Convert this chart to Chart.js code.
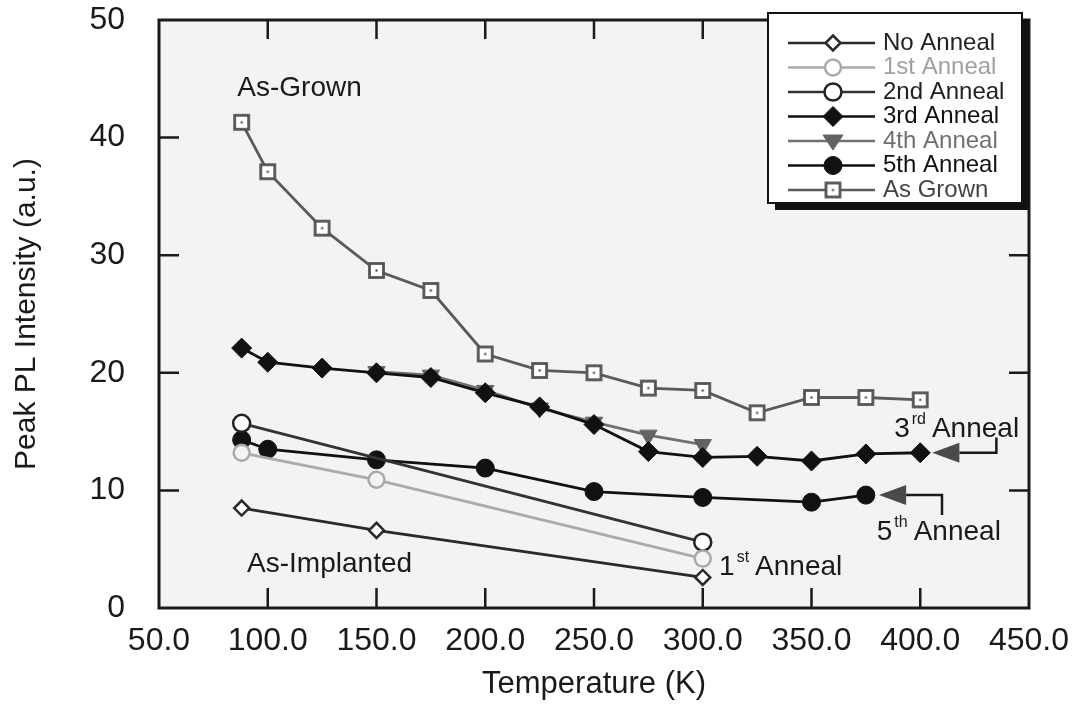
<!DOCTYPE html>
<html>
<head>
<meta charset="utf-8">
<title>Peak PL Intensity vs Temperature</title>
<script src="https://cdn.jsdelivr.net/npm/chart.js@4.4.1/dist/chart.umd.min.js"></script>
<style>
  html, body { margin: 0; padding: 0; background: #ffffff; }
  #wrap { width: 1076px; height: 705px; position: relative; }
</style>
</head>
<body>
<div id="wrap"><canvas id="plChart"></canvas></div>
<script>
// Temperatures (K) and peak PL intensity (a.u.)
const noAnnealT = [88, 150, 300];
const noAnneal = [8.5, 6.6, 2.6];

const firstT = [88, 150, 300];
const first = [13.2, 10.9, 4.2];

const secondT = [88, 300];
const second = [15.7, 5.6];

const thirdT = [88, 100, 125, 150, 175, 200, 225, 250, 275, 300, 325, 350, 375, 400];
const third = [22.1, 20.9, 20.4, 20.0, 19.6, 18.3, 17.1, 15.6, 13.3, 12.8, 12.9, 12.5, 13.1, 13.2];

const fourthT = [150, 175, 200, 225, 250, 275, 300];
const fourth = [20.1, 19.8, 18.5, 17.0, 15.8, 14.7, 13.9];

const fifthT = [88, 100, 150, 200, 250, 300, 350, 375];
const fifth = [14.3, 13.5, 12.6, 11.9, 9.9, 9.4, 9.0, 9.6];

const asGrownT = [88, 100, 125, 150, 175, 200, 225, 250, 275, 300, 325, 350, 375, 400];
const asGrown = [41.3, 37.1, 32.3, 28.7, 27.0, 21.6, 20.2, 20.0, 18.7, 18.5, 16.6, 17.9, 17.9, 17.7];

const xTicks = [50, 100, 150, 200, 250, 300, 350, 400, 450];
const yTicks = [0, 10, 20, 30, 40, 50];

const FONT = '"Liberation Sans", Arial, Helvetica, sans-serif';

function pts(xs, ys) {
    return xs.map((x, i) => ({ x: x, y: ys[i] }));
}

// square marker with a dot in the middle (As Grown)
function squareDot() {
    const c = document.createElement('canvas');
    c.width = 19; c.height = 19;
    const g = c.getContext('2d');
    g.fillStyle = '#ffffff';
    g.fillRect(2, 2, 15, 15);
    g.strokeStyle = '#555555';
    g.lineWidth = 2.8;
    g.strokeRect(2.5, 2.5, 14, 14);
    g.fillStyle = '#333333';
    g.fillRect(8.5, 8.5, 2, 2);
    return c;
}
const sqImg = squareDot();

const datasets = [
    {
        label: 'As Grown', data: pts(asGrownT, asGrown),
        borderColor: '#5a5a5a', borderWidth: 2.8, pointStyle: sqImg, pointRadius: 9,
        textColor: '#444444'
    },
    {
        label: 'No Anneal', data: pts(noAnnealT, noAnneal),
        borderColor: '#2a2a2a', borderWidth: 2.8, pointStyle: 'rectRot', pointRadius: 7.5,
        pointBackgroundColor: '#ffffff', pointBorderColor: '#2a2a2a', pointBorderWidth: 2.5,
        textColor: '#222222'
    },
    {
        label: '1st Anneal', data: pts(firstT, first),
        borderColor: '#aaaaaa', borderWidth: 2.8, pointStyle: 'circle', pointRadius: 8,
        pointBackgroundColor: '#f3f3f3', pointBorderColor: '#aaaaaa', pointBorderWidth: 2.5,
        textColor: '#a0a0a0'
    },
    {
        label: '2nd Anneal', data: pts(secondT, second),
        borderColor: '#333333', borderWidth: 2.8, pointStyle: 'circle', pointRadius: 8.5,
        pointBackgroundColor: '#ffffff', pointBorderColor: '#222222', pointBorderWidth: 2.5,
        textColor: '#222222'
    },
    {
        label: '3rd Anneal', data: pts(thirdT, third),
        borderColor: '#111111', borderWidth: 2.8, pointStyle: 'rectRot', pointRadius: 10,
        pointBackgroundColor: '#111111', pointBorderColor: '#111111', pointBorderWidth: 1,
        textColor: '#111111'
    },
    {
        label: '4th Anneal', data: pts(fourthT, fourth),
        borderColor: '#707070', borderWidth: 2.8, pointStyle: 'triangle', pointRotation: 180, pointRadius: 10,
        pointBackgroundColor: '#626262', pointBorderColor: '#626262', pointBorderWidth: 1,
        textColor: '#707070'
    },
    {
        label: '5th Anneal', data: pts(fifthT, fifth),
        borderColor: '#111111', borderWidth: 2.8, pointStyle: 'circle', pointRadius: 9,
        pointBackgroundColor: '#111111', pointBorderColor: '#111111', pointBorderWidth: 1,
        textColor: '#111111'
    }
];
datasets.forEach(d => { d.showLine = true; d.fill = false; d.tension = 0; });

// legend order as in the figure
const legendOrder = ['No Anneal', '1st Anneal', '2nd Anneal', '3rd Anneal', '4th Anneal', '5th Anneal', 'As Grown'];

function drawMarker(ctx, ds, x, y) {
    const r = ds.pointRadius;
    if (ds.pointStyle === sqImg) {
        ctx.drawImage(sqImg, x - sqImg.width / 2, y - sqImg.height / 2);
        return;
    }
    ctx.save();
    ctx.fillStyle = ds.pointBackgroundColor === '#f3f3f3' ? '#ffffff' : ds.pointBackgroundColor;
    ctx.strokeStyle = ds.pointBorderColor;
    ctx.lineWidth = ds.pointBorderWidth;
    ctx.beginPath();
    if (ds.pointStyle === 'circle') {
        ctx.arc(x, y, r, 0, Math.PI * 2);
    } else if (ds.pointStyle === 'rectRot') {
        ctx.moveTo(x, y - r); ctx.lineTo(x + r, y); ctx.lineTo(x, y + r); ctx.lineTo(x - r, y);
        ctx.closePath();
    } else if (ds.pointStyle === 'triangle') {
        ctx.moveTo(x - r, y - r * 0.6); ctx.lineTo(x + r, y - r * 0.6); ctx.lineTo(x, y + r * 0.9);
        ctx.closePath();
    }
    ctx.fill();
    ctx.stroke();
    ctx.restore();
}

// plot background, frame and inward ticks
const framePlugin = {
    id: 'frame',
    beforeDatasetsDraw(chart) {
        const { ctx, chartArea: a, scales: { x, y } } = chart;
        ctx.save();
        ctx.strokeStyle = '#1a1a1a';
        ctx.lineWidth = 2.5;
        ctx.beginPath();
        xTicks.slice(1, -1).forEach(v => {
            const px = x.getPixelForValue(v);
            ctx.moveTo(px, a.bottom); ctx.lineTo(px, a.bottom - 20);
            ctx.moveTo(px, a.top); ctx.lineTo(px, a.top + 19);
        });
        yTicks.slice(1, -1).forEach(v => {
            const py = y.getPixelForValue(v);
            ctx.moveTo(a.left, py); ctx.lineTo(a.left + 20, py);
            ctx.moveTo(a.right, py); ctx.lineTo(a.right - 20, py);
        });
        ctx.stroke();
        ctx.lineWidth = 3;
        ctx.strokeRect(a.left, a.top, a.right - a.left, a.bottom - a.top);
        ctx.restore();
    },
    beforeDraw(chart) {
        const { ctx, chartArea: a } = chart;
        ctx.save();
        ctx.fillStyle = '#f3f3f3';
        ctx.fillRect(a.left, a.top, a.right - a.left, a.bottom - a.top);
        ctx.restore();
    }
};

// text with a superscript ordinal, e.g. 3rd Anneal
function supText(ctx, lead, sup, rest, x, y) {
    ctx.font = '28px ' + FONT;
    ctx.fillText(lead, x, y);
    let w = ctx.measureText(lead).width + 2;
    ctx.font = '16px ' + FONT;
    ctx.fillText(sup, x + w, y - 13);
    w += ctx.measureText(sup).width + 6;
    ctx.font = '28px ' + FONT;
    ctx.fillText(rest, x + w, y);
}

function arrow(ctx, x, y, tipX, tipY, baseX, endX, bendY) {
    const tx = x.getPixelForValue(tipX), ty = y.getPixelForValue(tipY);
    const bx = x.getPixelForValue(baseX), ex = x.getPixelForValue(endX);
    const by = y.getPixelForValue(bendY);
    ctx.strokeStyle = '#1a1a1a';
    ctx.lineWidth = 2.5;
    ctx.beginPath();
    ctx.moveTo(bx, ty); ctx.lineTo(ex, ty); ctx.lineTo(ex, by);
    ctx.stroke();
    ctx.fillStyle = '#4a4a4a';
    ctx.beginPath();
    ctx.moveTo(tx, ty); ctx.lineTo(bx, ty - 10); ctx.lineTo(bx, ty + 10);
    ctx.closePath();
    ctx.fill();
}

const notesPlugin = {
    id: 'notes',
    afterDraw(chart) {
        const { ctx, chartArea: a, scales: { x, y } } = chart;
        ctx.save();
        ctx.fillStyle = '#1a1a1a';
        ctx.textBaseline = 'alphabetic';
        ctx.textAlign = 'left';

        ctx.font = '28px ' + FONT;
        ctx.fillText('As-Grown', x.getPixelForValue(86), y.getPixelForValue(43.5));
        ctx.fillText('As-Implanted', x.getPixelForValue(90.5), y.getPixelForValue(3.1));
        supText(ctx, '1', 'st', 'Anneal', x.getPixelForValue(307.5), y.getPixelForValue(2.8));
        supText(ctx, '3', 'rd', 'Anneal', x.getPixelForValue(388), y.getPixelForValue(14.55));
        supText(ctx, '5', 'th', 'Anneal', x.getPixelForValue(380), y.getPixelForValue(5.8));

        arrow(ctx, x, y, 405.5, 13.2, 418, 435, 14.5);
        arrow(ctx, x, y, 381, 9.6, 393.5, 410, 7.9);

        // legend box with drop shadow
        const lx = 768, ly = 13, lw = 254, lh = 190;
        ctx.fillStyle = '#111111';
        ctx.fillRect(lx + 7, ly + 7, lw, lh);
        ctx.fillStyle = '#ffffff';
        ctx.fillRect(lx, ly, lw, lh);
        ctx.strokeStyle = '#111111';
        ctx.lineWidth = 2;
        ctx.strokeRect(lx, ly, lw, lh);

        legendOrder.forEach((name, i) => {
            const ds = datasets.find(d => d.label === name);
            const rowY = ly + 30 + i * 24.5;
            ctx.strokeStyle = ds.borderColor;
            ctx.lineWidth = 2.5;
            ctx.beginPath();
            ctx.moveTo(788, rowY); ctx.lineTo(875, rowY);
            ctx.stroke();
            drawMarker(ctx, ds, 833, rowY);
            ctx.fillStyle = ds.textColor;
            ctx.font = '24px ' + FONT;
            ctx.textBaseline = 'middle';
            ctx.fillText(name, 883, rowY);
        });
        ctx.restore();
    }
};

const chart = new Chart(document.getElementById('plChart').getContext('2d'), {
    type: 'scatter',
    data: { datasets: datasets },
    options: {
        responsive: true,
        maintainAspectRatio: false,
        animation: false,
        layout: { padding: { top: 20, right: 47, left: 0, bottom: 0 } },
        plugins: { legend: { display: false }, tooltip: { enabled: false } },
        scales: {
            x: {
                type: 'linear', min: 50, max: 450,
                afterBuildTicks: s => { s.ticks = xTicks.map(v => ({ value: v })); },
                afterFit: s => { s.height = 97; s.paddingLeft = 0; s.paddingRight = 0; },
                grid: { display: false, drawTicks: false },
                border: { display: false },
                ticks: {
                    padding: 14, color: '#1a1a1a', maxRotation: 0, autoSkip: false,
                    font: { size: 32, family: FONT },
                    callback: v => Number(v).toFixed(1)
                },
                title: {
                    display: true, text: 'Temperature (K)', color: '#1a1a1a',
                    font: { size: 31, family: FONT }, padding: { top: 0, bottom: 2 }
                }
            },
            y: {
                min: 0, max: 50,
                afterBuildTicks: s => { s.ticks = yTicks.map(v => ({ value: v })); },
                afterFit: s => { s.width = 159; s.paddingTop = 0; s.paddingBottom = 0; },
                grid: { display: false, drawTicks: false },
                border: { display: false },
                ticks: {
                    padding: 34, color: '#1a1a1a',
                    font: { size: 32, family: FONT }
                },
                title: {
                    display: true, text: 'Peak PL Intensity (a.u.)', color: '#1a1a1a',
                    font: { size: 30, family: FONT }, padding: { top: 9, bottom: 0 }
                }
            }
        }
    },
    plugins: [framePlugin, notesPlugin]
});
</script>
</body>
</html>
